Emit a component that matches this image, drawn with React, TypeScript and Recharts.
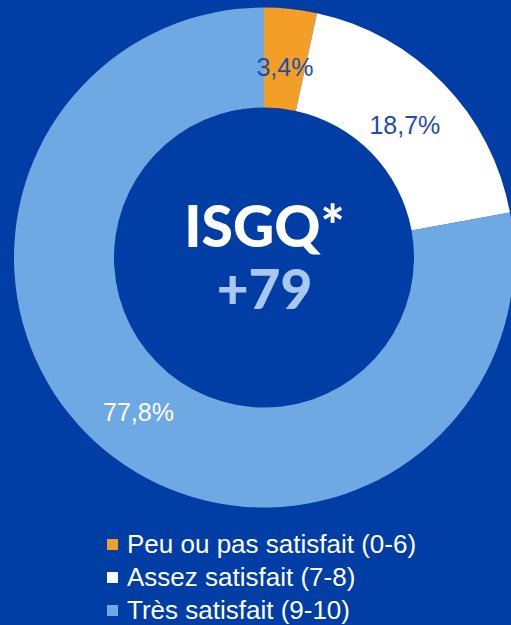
import { Cell, Legend, Pie, PieChart } from 'recharts';

const categories = ['Peu ou pas satisfait (0-6)', 'Assez satisfait (7-8)', 'Très satisfait (9-10)'];
const shares = [3.4, 18.7, 77.8];
const sliceColors = ['#F29E27', '#FFFFFF', '#6EA9E4'];
const labelColors = ['#1E4DB0', '#1E4DB0', '#FFFFFF'];

const BG = '#003DA5';
const RAD = Math.PI / 180;

const data = categories.map((name, i) => ({ name, value: shares[i] }));

function renderLabel(props: any) {
  const { cx, cy, midAngle, innerRadius, outerRadius, index, value } = props;
  const r = (innerRadius + outerRadius) / 2 - 4;
  const x = cx + r * Math.cos(-midAngle * RAD);
  const y = cy + r * Math.sin(-midAngle * RAD) + 4;
  return (
    <text
      x={x}
      y={y}
      fill={labelColors[index]}
      textAnchor="middle"
      dominantBaseline="central"
      fontFamily="'Liberation Sans', Arial, sans-serif"
      fontSize={25}
    >
      {value.toFixed(1).replace('.', ',')}%
    </text>
  );
}

function LegendList() {
  return (
    <div style={{ fontFamily: "'Liberation Sans', Arial, sans-serif", fontSize: 26, color: '#fff' }}>
      {categories.map((name, i) => (
        <div key={name} style={{ display: 'flex', alignItems: 'center', height: 33 }}>
          <span style={{ width: 11, height: 11, background: sliceColors[i], marginRight: 9, flexShrink: 0 }} />
          <span>{name}</span>
        </div>
      ))}
    </div>
  );
}

export default function App() {
  return (
    <div style={{ width: 511, height: 625, background: BG, overflow: 'hidden' }}>
      <style>{'body{margin:0}'}</style>
      <PieChart width={511} height={625} margin={{ top: 0, right: 0, bottom: 0, left: 0 }}>
        <Pie
          data={data}
          dataKey="value"
          nameKey="name"
          cx={264}
          cy={257.5}
          innerRadius={150}
          outerRadius={250}
          startAngle={90}
          endAngle={-270}
          stroke="none"
          label={renderLabel}
          labelLine={false}
          isAnimationActive={false}
        >
          {data.map((d, i) => (
            <Cell key={d.name} fill={sliceColors[i]} />
          ))}
        </Pie>
        <text
          x={264.5}
          y={247}
          textAnchor="middle"
          fill="#FFFFFF"
          fontFamily="Lato, 'Open Sans', sans-serif"
          fontWeight={900}
          fontSize={57}
        >
          ISGQ*
        </text>
        <text
          x={264.5}
          y={309}
          textAnchor="middle"
          fill="#A9C7EF"
          fontFamily="Lato, 'Open Sans', sans-serif"
          fontWeight={900}
          fontSize={55}
        >
          +79
        </text>
        <Legend
          layout="horizontal"
          verticalAlign="bottom"
          align="left"
          wrapperStyle={{ left: 107, top: 528, width: 390, bottom: 'auto' }}
          content={<LegendList />}
        />
      </PieChart>
    </div>
  );
}
